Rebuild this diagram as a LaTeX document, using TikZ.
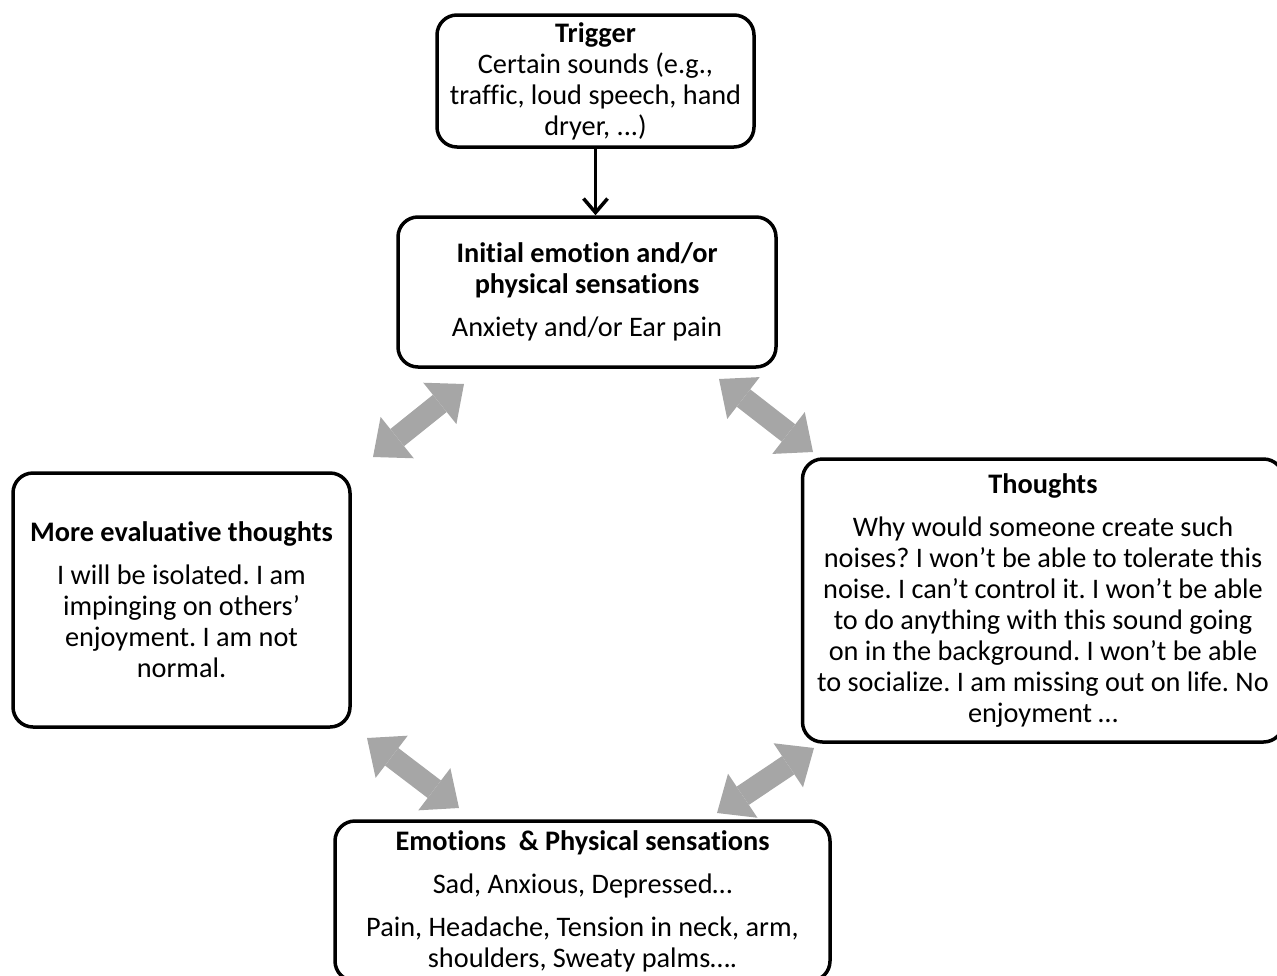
\documentclass[tikz,border=0pt]{standalone}
\usepackage{fontspec}
\setmainfont{Carlito}[Ligatures=NoCommon]
\usetikzlibrary{arrows.meta}
\definecolor{linkgray}{RGB}{166,166,166}
\frenchspacing
\begin{document}
\begin{tikzpicture}[x=1pt,y=-1pt,
        box/.style={draw=black,line width=3.5pt,rounded corners=20pt,align=center,inner sep=0pt,font=\fontsize{28.3}{31}\selectfont},
        link/.style={linkgray,line width=22pt,{Triangle[length=31pt,width=53pt,line width=0pt]}-{Triangle[length=31pt,width=53pt,line width=0pt]}}]
        \useasboundingbox (0,0) rectangle (1277,975);

        % Trigger
        \node[box,minimum width=317pt,minimum height=132pt] (trigger) at (595.5,81) {\textbf{Trigger}\\Certain sounds (e.g.,\\traffic, loud speech, hand\\dryer, ...)};

        % Initial emotion
        \node[box,minimum width=378pt,minimum height=150pt] (initial) at (587,292) {\textbf{Initial emotion and/or}\\\textbf{physical sensations}\\[12pt]Anxiety and/or Ear pain};

        % More evaluative thoughts
        \node[box,minimum width=337pt,minimum height=254pt] (evaluative) at (181.5,600) {\textbf{More evaluative thoughts}\\[12pt]I will be isolated. I am\\impinging on others’\\enjoyment. I am not\\normal.};

        % Thoughts
        \node[box,minimum width=481pt,minimum height=283pt] (thoughts) at (1043,600.5) {\textbf{Thoughts}\\[12pt]Why would someone create such\\noises? I won’t be able to tolerate this\\noise. I can’t control it. I won’t be able\\to do anything with this sound going\\on in the background. I won’t be able\\to socialize. I am missing out on life. No\\enjoyment …};

        % Emotions & physical sensations
        \node[box,minimum width=495pt,minimum height=160pt] (emotions) at (582.5,901) {\textbf{Emotions\ \ \& Physical sensations}\\[12pt]Sad, Anxious, Depressed…\\[12pt]Pain, Headache, Tension in neck, arm,\\shoulders, Sweaty palms….};

        % Trigger arrow
        \draw[line width=3.5pt,-{Straight Barb[length=14pt,width=24pt]}] (trigger.south) -- (trigger.south |- initial.north);

        % Cycle arrows
        \coordinate (ul1) at (373,457);
        \coordinate (ul2) at (464,384);
        \coordinate (ur1) at (719,379);
        \coordinate (ur2) at (813,452);
        \coordinate (ll1) at (367,738);
        \coordinate (ll2) at (459,808);
        \coordinate (lr1) at (814,748);
        \coordinate (lr2) at (717,813);
        \draw[link] (ul1) -- (ul2);
        \draw[link] (ur1) -- (ur2);
        \draw[link] (ll1) -- (ll2);
        \draw[link] (lr1) -- (lr2);
\end{tikzpicture}
\end{document}
